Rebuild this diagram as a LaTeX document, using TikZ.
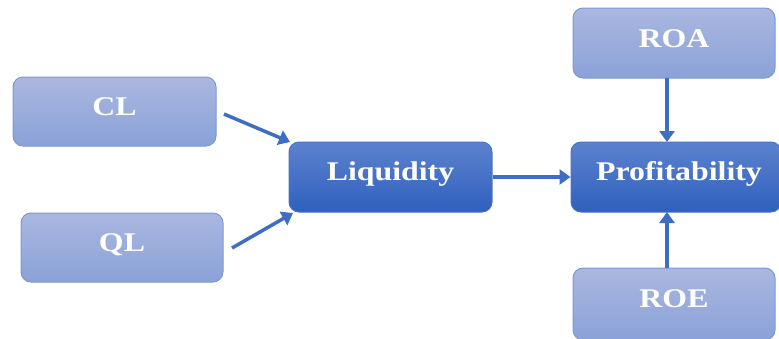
\documentclass[tikz,border=0pt]{standalone}
\usepackage{fontspec}
\setmainfont{Liberation Serif}
\usetikzlibrary{arrows.meta}
\definecolor{lighttop}{HTML}{AAB7E0}
\definecolor{lightbot}{HTML}{8AA2D8}
\definecolor{lightedge}{HTML}{7E98D4}
\definecolor{darktop}{HTML}{5C82CE}
\definecolor{darkbot}{HTML}{2F60BE}
\definecolor{darkedge}{HTML}{4A72C6}
\definecolor{arrowc}{HTML}{3D6EC4}
\tikzset{
  lightbox/.style={draw=lightedge, line width=1pt, rounded corners=10pt, top color=lighttop, bottom color=lightbot, inner sep=0pt},
  darkbox/.style={draw=darkedge, line width=1pt, rounded corners=10pt, top color=darktop, bottom color=darkbot, inner sep=0pt},
  lbl/.style={text=white, anchor=base, inner sep=0pt, font=\fontsize{27}{29}\selectfont\bfseries},
  conn/.style={draw=arrowc, line width=3.5pt, -{Triangle[length=11pt,width=15pt]}}
}
\newcommand{\wlab}[1]{\scalebox{1.18}[1]{#1}}
\begin{document}
\begin{tikzpicture}[x=1pt,y=-1pt]
\useasboundingbox (0,0) rectangle (779,338);
\clip (0,0) rectangle (779,338);
\node[lightbox, minimum width=203pt, minimum height=69pt] (cl) at (114.5,111.5) {};
\node[lbl] (cltext) at (114.5,115) {\wlab{CL}};
\node[lightbox, minimum width=202pt, minimum height=69pt] (ql) at (122,247.5) {};
\node[lbl] (qltext) at (122,251) {\wlab{QL}};
\node[darkbox, minimum width=203pt, minimum height=70pt] (liq) at (390.5,177) {};
\node[lbl] (liqtext) at (390.5,180) {\wlab{Liquidity}};
\node[darkbox, minimum width=210pt, minimum height=70pt] (prof) at (676,177) {};
\node[lbl] (proftext) at (679,180) {\wlab{Profitability}};
\node[lightbox, minimum width=202pt, minimum height=70pt] (roa) at (674,43) {};
\node[lbl] (roatext) at (674,47) {\wlab{ROA}};
\node[lightbox, minimum width=202pt, minimum height=72pt] (roe) at (674,304) {};
\node[lbl] (roetext) at (674,307) {\wlab{ROE}};
\draw[conn] (224,114) -- (290,142);
\draw[conn] (232,248) -- (293,213);
\draw[conn] (liq.east) -- (prof.west);
\draw[conn] (667,78) -- (667,142);
\draw[conn] (667,268) -- (667,212);
\end{tikzpicture}
\end{document}
